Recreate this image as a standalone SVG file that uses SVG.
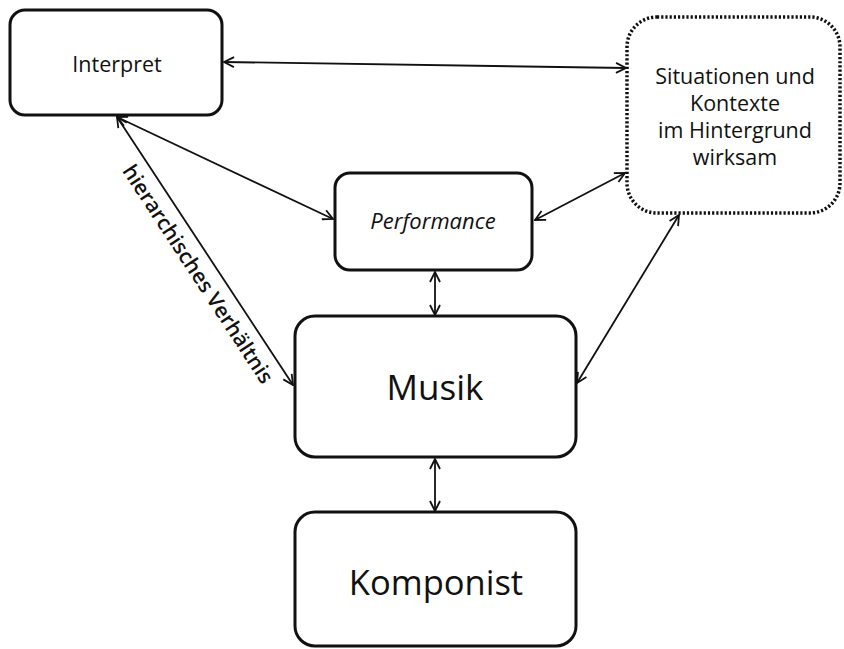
<svg xmlns="http://www.w3.org/2000/svg" width="844" height="649" viewBox="0 0 844 649">
<style>
.box{fill:#fff;stroke:#111;stroke-width:3}
.dot{fill:#fff;stroke:#111;stroke-width:3.5;stroke-dasharray:2.2 2;stroke-linecap:butt}
.t{font-family:"Open Sans","Liberation Sans",sans-serif;fill:#111;text-anchor:middle}
.c{stroke:#111;stroke-width:1.8;fill:none;marker-start:url(#ah);marker-end:url(#ah)}
</style>
<defs>
<marker id="ah" viewBox="0 0 12 12" refX="11" refY="6" markerWidth="12" markerHeight="12" markerUnits="userSpaceOnUse" orient="auto-start-reverse">
<path d="M1,1 L11,6 L1,11" fill="none" stroke="#111" stroke-width="1.8"/>
</marker>
</defs>
<rect width="844" height="649" fill="#fff"/>
<g id="connectors">
<line class="c" x1="224" y1="62" x2="626" y2="68"/>
<line class="c" x1="117" y1="117" x2="333" y2="219"/>
<line class="c" x1="117" y1="117" x2="293" y2="385"/>
<line class="c" x1="535" y1="220" x2="625" y2="173"/>
<line class="c" x1="435" y1="272" x2="435" y2="315"/>
<line class="c" x1="577" y1="383" x2="679" y2="215"/>
<line class="c" x1="435" y1="459" x2="435" y2="511"/>
</g>
<g id="interpret">
<rect class="box" x="10" y="10" width="212" height="105" rx="15"/>
<text class="t" x="117" y="72" font-size="21.5">Interpret</text>
</g>
<g id="situationen">
<rect class="dot" x="627" y="17" width="213" height="196" rx="30"/>
<text class="t" x="735" y="84" font-size="21.5">Situationen und</text>
<text class="t" x="735" y="111" font-size="21.5">Kontexte</text>
<text class="t" x="735" y="138" font-size="21.5">im Hintergrund</text>
<text class="t" x="735" y="165" font-size="21.5">wirksam</text>
</g>
<g id="performance">
<rect class="box" x="335" y="173" width="197" height="97" rx="15"/>
<text class="t" x="433" y="229" font-size="22" font-style="italic">Performance</text>
</g>
<g id="musik">
<rect class="box" x="295" y="316" width="281" height="141" rx="20"/>
<text class="t" x="435" y="400" font-size="35">Musik</text>
</g>
<g id="komponist">
<rect class="box" x="295" y="512" width="281" height="134" rx="20"/>
<text class="t" x="436" y="595" font-size="34.5">Komponist</text>
</g>
<g id="label">
<text class="t" font-size="21" font-weight="600" transform="translate(192,278) rotate(56.8)">hierarchisches Verhältnis</text>
</g>
</svg>
